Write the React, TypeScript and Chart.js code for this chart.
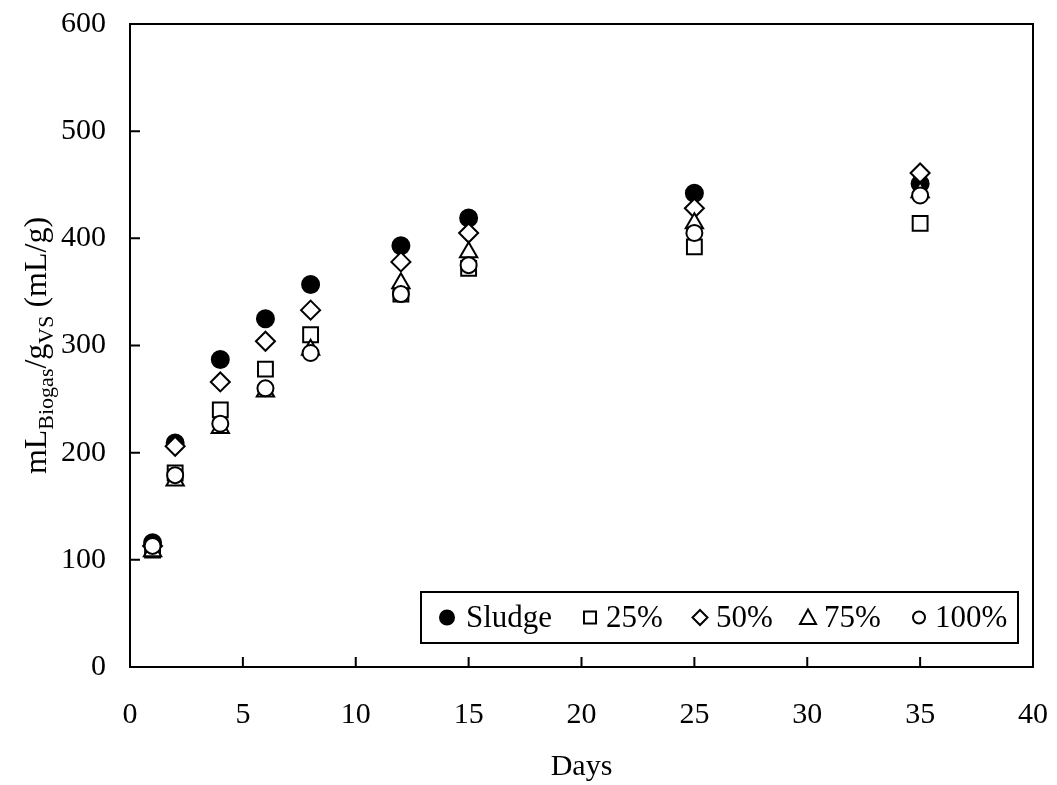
import React, { useEffect, useRef } from "react";
import { Chart, registerables } from "chart.js";

Chart.register(...registerables);

const days = [1, 2, 4, 6, 8, 12, 15, 25, 35];
const sludge = [116, 209, 287, 325, 357, 393, 419, 442, 451];
const p25 = [109, 181, 240, 278, 310, 348, 372, 392, 414];
const p50 = [113, 206, 266, 304, 333, 378, 405, 428, 461];
const p75 = [108, 174, 223, 257, 296, 358, 387, 414, 443];
const p100 = [113, 179, 227, 260, 293, 348, 375, 405, 440];

const seriesLabels = ["Sludge", "25%", "50%", "75%", "100%"];
const xTicks = [0, 5, 10, 15, 20, 25, 30, 35, 40];
const yTicks = [0, 100, 200, 300, 400, 500, 600];

const FONT = "'Liberation Serif', 'Times New Roman', serif";

function drawMarker(ctx: CanvasRenderingContext2D, style: string, x: number, y: number, r: number, filled: boolean) {
  ctx.save();
  ctx.lineWidth = 2;
  ctx.strokeStyle = "#000";
  ctx.fillStyle = filled ? "#000" : "#fff";
  ctx.beginPath();
  if (style === "circle") {
    ctx.arc(x, y, r, 0, Math.PI * 2);
  } else if (style === "rect") {
    ctx.rect(x - r, y - r, 2 * r, 2 * r);
  } else if (style === "rectRot") {
    ctx.moveTo(x, y - r);
    ctx.lineTo(x + r, y);
    ctx.lineTo(x, y + r);
    ctx.lineTo(x - r, y);
    ctx.closePath();
  } else if (style === "triangle") {
    ctx.moveTo(x, y - r);
    ctx.lineTo(x + r, y + r * 0.8);
    ctx.lineTo(x - r, y + r * 0.8);
    ctx.closePath();
  }
  ctx.fill();
  ctx.stroke();
  ctx.restore();
}

const decorPlugin = {
  id: "decor",
  afterDraw(chart: any) {
    const ctx: CanvasRenderingContext2D = chart.ctx;
    const { left, right, top, bottom } = chart.chartArea;
    const xs = chart.scales.x;
    const ys = chart.scales.y;
    ctx.save();
    ctx.strokeStyle = "#000";
    ctx.lineWidth = 2;
    // frame top and right
    ctx.beginPath();
    ctx.moveTo(left, top);
    ctx.lineTo(right, top);
    ctx.lineTo(right, bottom);
    ctx.stroke();
    // inward ticks
    ctx.beginPath();
    xTicks.forEach((v) => {
      const px = xs.getPixelForValue(v);
      ctx.moveTo(px, bottom);
      ctx.lineTo(px, bottom - 10);
    });
    yTicks.forEach((v) => {
      const py = ys.getPixelForValue(v);
      ctx.moveTo(left, py);
      ctx.lineTo(left + 10, py);
    });
    ctx.stroke();

    // y-axis title with subscripts
    const mainSize = 32;
    const subSize = 22;
    const segs = [
      { t: "mL", sub: false },
      { t: "Biogas", sub: true },
      { t: "/g", sub: false },
      { t: "VS", sub: true },
      { t: " (mL/g)", sub: false },
    ];
    let total = 0;
    const widths = segs.map((s) => {
      ctx.font = `${s.sub ? subSize : mainSize}px ${FONT}`;
      const w = ctx.measureText(s.t).width;
      total += w;
      return w;
    });
    ctx.translate(46, (top + bottom) / 2);
    ctx.rotate(-Math.PI / 2);
    ctx.fillStyle = "#000";
    ctx.textBaseline = "alphabetic";
    ctx.textAlign = "left";
    let cx = -total / 2;
    segs.forEach((s, i) => {
      ctx.font = `${s.sub ? subSize : mainSize}px ${FONT}`;
      ctx.fillText(s.t, cx, s.sub ? 7 : 0);
      cx += widths[i];
    });
    ctx.restore();

    // legend
    ctx.save();
    const bx = 421, by = 592, bw = 597, bh = 51;
    ctx.fillStyle = "#fff";
    ctx.fillRect(bx, by, bw, bh);
    ctx.strokeStyle = "#000";
    ctx.lineWidth = 2;
    ctx.strokeRect(bx, by, bw, bh);
    const cy = by + bh / 2;
    const markerX = [447, 590, 700, 808, 919];
    const textX = [466, 606, 716, 824, 935];
    const styles = ["circle", "rect", "rectRot", "triangle", "circle"];
    const sizes = [7, 6, 7.5, 8, 6];
    ctx.font = `31px ${FONT}`;
    ctx.textBaseline = "middle";
    ctx.textAlign = "left";
    chart.data.datasets.forEach((ds: any, i: number) => {
      drawMarker(ctx, styles[i], markerX[i], cy, sizes[i], i === 0);
      ctx.fillStyle = "#000";
      ctx.fillText(ds.label, textX[i], cy + 1);
    });
    ctx.restore();
  },
};

export default function App() {
  const ref = useRef<HTMLCanvasElement>(null);
  useEffect(() => {
    if (!ref.current) return;
    const mk = (vals: number[]) => days.map((d, i) => ({ x: d, y: vals[i] }));
    const common = {
      showLine: false,
      borderColor: "#000",
      borderWidth: 2,
      pointBorderWidth: 2,
    };
    const chart = new Chart(ref.current, {
      type: "scatter",
      data: {
        datasets: [
          { ...common, label: seriesLabels[0], data: mk(sludge), pointStyle: "circle", pointRadius: 8.5, backgroundColor: "#000", pointBackgroundColor: "#000", order: 5 },
          { ...common, label: seriesLabels[1], data: mk(p25), pointStyle: "rect", pointRadius: 10.5, backgroundColor: "#fff", pointBackgroundColor: "#fff", order: 4 },
          { ...common, label: seriesLabels[2], data: mk(p50), pointStyle: "rectRot", pointRadius: 9.5, backgroundColor: "#fff", pointBackgroundColor: "#fff", order: 3 },
          { ...common, label: seriesLabels[3], data: mk(p75), pointStyle: "triangle", pointRadius: 10, backgroundColor: "#fff", pointBackgroundColor: "#fff", order: 2 },
          { ...common, label: seriesLabels[4], data: mk(p100), pointStyle: "circle", pointRadius: 8, backgroundColor: "#fff", pointBackgroundColor: "#fff", order: 1 },
        ],
      },
      options: {
        animation: false,
        responsive: true,
        maintainAspectRatio: false,
        layout: { padding: { left: 0, top: 24, right: 24, bottom: 0 } },
        plugins: { legend: { display: false }, tooltip: { enabled: false } },
        scales: {
          x: {
            type: "linear",
            min: 0,
            max: 40,
            afterFit: (s: any) => {
              s.height = 118;
              s.paddingLeft = 0;
              s.paddingRight = 0;
              s.paddingTop = 0;
              s.paddingBottom = 0;
            },
            ticks: { stepSize: 5, color: "#000", font: { family: FONT, size: 30 }, padding: 30, maxRotation: 0 },
            grid: { display: true, drawOnChartArea: false, drawTicks: false },
            border: { display: true, color: "#000", width: 2 },
            title: { display: true, text: "Days", color: "#000", font: { family: FONT, size: 30 }, padding: { top: 0, bottom: 0 } },
          },
          y: {
            type: "linear",
            min: 0,
            max: 600,
            afterFit: (s: any) => {
              s.width = 130;
              s.paddingLeft = 0;
              s.paddingRight = 0;
              s.paddingTop = 0;
              s.paddingBottom = 0;
            },
            ticks: { stepSize: 100, color: "#000", font: { family: FONT, size: 30 }, padding: 24 },
            grid: { display: true, drawOnChartArea: false, drawTicks: false },
            border: { display: true, color: "#000", width: 2 },
          },
        },
      },
      plugins: [decorPlugin],
    } as any);
    return () => chart.destroy();
  }, []);
  return (
    <div style={{ position: "fixed", left: 0, top: 0, width: 1057, height: 785, background: "#fff" }}>
      <canvas ref={ref} />
    </div>
  );
}
